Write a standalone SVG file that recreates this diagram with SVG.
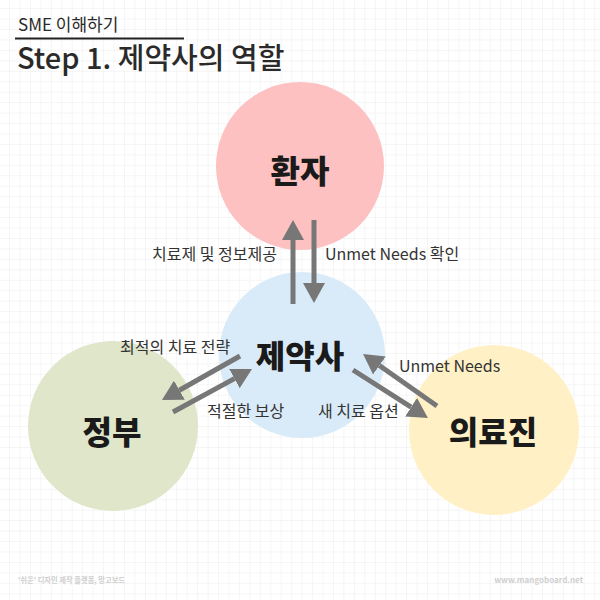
<svg xmlns="http://www.w3.org/2000/svg" width="600" height="600" viewBox="0 0 600 600">
<defs>
<pattern id="grid" x="-0.45" y="-1.4" width="10.45" height="10.45" patternUnits="userSpaceOnUse">
<path d="M10.45 0V10.45M0 10.45H10.45" fill="none" stroke="#ececec" stroke-width="1"/>
</pattern>
<marker id="ah" viewBox="0 0 20 22" refX="0" refY="11" markerWidth="20" markerHeight="22" markerUnits="userSpaceOnUse" orient="auto">
<path d="M0 0L20 11L0 22Z" fill="#777"/>
</marker>
<style>
text{font-family:"Noto Sans CJK KR","Noto Sans",sans-serif;fill:#2a2a2a}
.node{font-size:32px;font-weight:900;text-anchor:middle;fill:#1a1a1a}
.lbl{font-size:16px;fill:#333}
.arr{stroke:#777;stroke-width:5;fill:none;marker-end:url(#ah)}
.foot{font-size:8px;font-weight:700;fill:#d0d0d0}
</style>
</defs>
<rect width="600" height="600" fill="#fff"/>
<rect width="600" height="600" fill="url(#grid)"/>
<g id="header">
<text x="18" y="31" font-size="17">SME 이해하기</text>
<line x1="15" y1="38.5" x2="184" y2="38.5" stroke="#222" stroke-width="2"/>
<text x="17" y="69" font-size="29" font-weight="500">Step 1. 제약사의 역할</text>
</g>
<g id="patient"><circle cx="300" cy="166" r="84" fill="#fec1c1"/><text class="node" x="300" y="183">환자</text></g>
<g id="pharma"><circle cx="302" cy="355" r="83" fill="#d9ebf8"/><text class="node" x="300" y="368">제약사</text></g>
<g id="government"><circle cx="113" cy="426" r="85" fill="#dfe6c9"/><text class="node" x="112" y="444">정부</text></g>
<g id="doctors"><circle cx="494" cy="430" r="85" fill="#fff1c5"/><text class="node" x="493" y="444">의료진</text></g>
<g id="connectors">
<line class="arr" x1="293" y1="304" x2="293" y2="240"/>
<line class="arr" x1="314" y1="220" x2="314" y2="283"/>
<line class="arr" x1="240" y1="356" x2="179.4" y2="390.2"/>
<line class="arr" x1="173" y1="412" x2="234.4" y2="378.6"/>
<line class="arr" x1="353" y1="370" x2="411.1" y2="407.2"/>
<line class="arr" x1="437" y1="406" x2="379.4" y2="365.5"/>
</g>
<g id="labels">
<text class="lbl" x="277" y="260" text-anchor="end">치료제 및 정보제공</text>
<text class="lbl" x="325" y="260">Unmet Needs 확인</text>
<text class="lbl" x="120" y="353">최적의 치료 전략</text>
<text class="lbl" x="207" y="417">적절한 보상</text>
<text class="lbl" x="318" y="417">새 치료 옵션</text>
<text class="lbl" x="399" y="372">Unmet Needs</text>
</g>
<g id="footer">
<text class="foot" x="18" y="583" textLength="107" lengthAdjust="spacingAndGlyphs">'쉬운' 디자인 제작 플랫폼, 망고보드</text>
<text class="foot" x="583" y="583" text-anchor="end" font-size="9">www.mangoboard.net</text>
</g>
</svg>
